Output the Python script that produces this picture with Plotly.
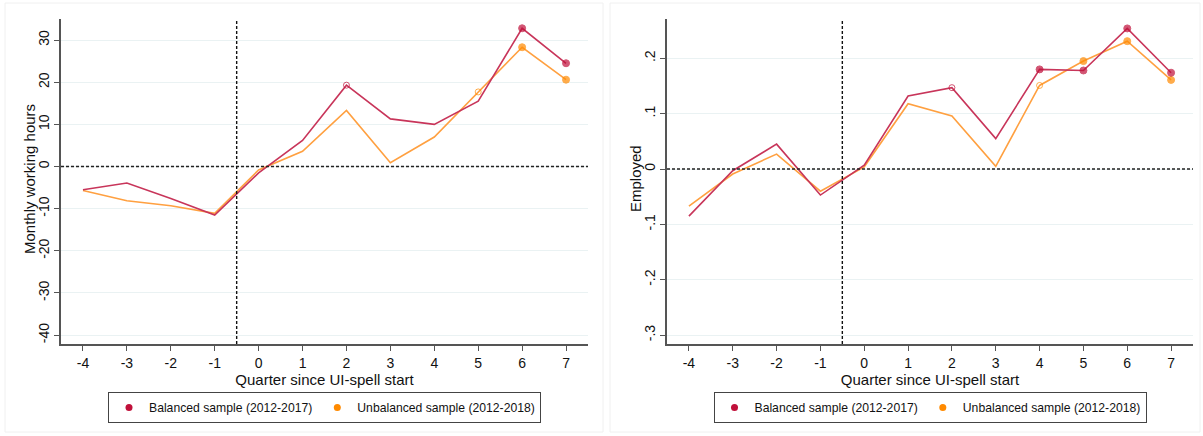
import plotly.graph_objects as go

W, H = 1203, 436

quarters = [-4, -3, -2, -1, 0, 1, 2, 3, 4, 5, 6, 7]
quarter_labels = ['-4', '-3', '-2', '-1', '0', '1', '2', '3', '4', '5', '6', '7']

# monthly working hours
hours_bal = [-5.5, -3.9, -7.6, -11.5, -1.5, 6.2, 19.3, 11.3, 10.0, 15.5, 32.8, 24.5]
hours_unbal = [-5.7, -8.1, -9.3, -11.1, -0.8, 3.6, 13.3, 0.9, 7.0, 17.7, 28.3, 20.6]
# 0 = no marker, 1 = hollow marker, 2 = filled marker
hours_bal_sig = [0, 0, 0, 0, 0, 0, 1, 0, 0, 0, 2, 2]
hours_unbal_sig = [0, 0, 0, 0, 0, 0, 0, 0, 0, 1, 2, 2]

# employed
emp_bal = [-0.085, -0.003, 0.045, -0.047, 0.007, 0.132, 0.147, 0.055, 0.180, 0.178, 0.254, 0.174]
emp_unbal = [-0.067, -0.009, 0.027, -0.040, 0.004, 0.118, 0.096, 0.005, 0.151, 0.195, 0.231, 0.161]
emp_bal_sig = [0, 0, 0, 0, 0, 0, 1, 0, 2, 2, 2, 2]
emp_unbal_sig = [0, 0, 0, 0, 0, 0, 0, 0, 1, 2, 2, 2]

hours_ticks = [30, 20, 10, 0, -10, -20, -30, -40]
hours_ticktext = ['30', '20', '10', '0', '-10', '-20', '-30', '-40']
emp_ticks = [0.2, 0.1, 0, -0.1, -0.2, -0.3]
emp_ticktext = ['.2', '.1', '0', '-.1', '-.2', '-.3']

names = ['Balanced sample (2012-2017)', 'Unbalanced sample (2012-2018)']
line_cols = ['#C8355A', '#FFA040']
mark_cols = ['#C0103A', '#FF8A00']

FONT = 'Liberation Sans, Arial, sans-serif'


def px_x(p):
    return p / W


def px_y(p):
    return 1 - p / H


def series(x, y, sig, col, mcol, xa, ya):
    sym = ['circle-open' if s == 1 else 'circle' for s in sig]
    size = [0 if s == 0 else (6 if s == 1 else 7) for s in sig]
    return go.Scatter(
        x=x, y=y, mode='lines+markers', xaxis=xa, yaxis=ya,
        line=dict(color=col, width=1.6),
        marker=dict(symbol=sym, size=size, color=mcol,
                    line=dict(color=mcol, width=1)),
        showlegend=False, hoverinfo='x+y',
    )


fig = go.Figure()
panels = [
    ('x', 'y', hours_bal, hours_unbal, hours_bal_sig, hours_unbal_sig, 'legend'),
    ('x2', 'y2', emp_bal, emp_unbal, emp_bal_sig, emp_unbal_sig, 'legend2'),
]
for xa, ya, b, u, bs, us, leg in panels:
    fig.add_trace(series(quarters, u, us, line_cols[1], mark_cols[1], xa, ya))
    fig.add_trace(series(quarters, b, bs, line_cols[0], mark_cols[0], xa, ya))
    for name, mc in zip(names, mark_cols):
        fig.add_trace(go.Scatter(
            x=[None], y=[None], mode='markers', name=name, xaxis=xa, yaxis=ya,
            marker=dict(color=mc, size=7), legend=leg,
        ))

axis_common = dict(
    showline=True, linecolor='#555555', linewidth=1.5,
    ticks='outside', ticklen=5, tickwidth=1.2, tickcolor='#555555',
    tickfont=dict(family=FONT, size=14, color='#111111'),
    zeroline=False, mirror=False,
)
xcommon = dict(axis_common, range=[-4.5, 7.5], tickvals=quarters,
               ticktext=quarter_labels, showgrid=False,
               title=dict(text='Quarter since UI-spell start', standoff=2,
                          font=dict(family=FONT, size=15, color='#111111')))
ycommon = dict(axis_common, showgrid=True, gridcolor='#EAF2F3', gridwidth=1,
               tickangle=-90)

legend_common = dict(orientation='h', xanchor='center', y=px_y(392), yanchor='top',
                     bordercolor='#444444', borderwidth=1,
                     font=dict(family=FONT, size=12.2, color='#111111'),
                     itemwidth=30, tracegroupgap=0)

fig.update_layout(
    width=W, height=H,
    margin=dict(l=0, r=0, t=0, b=0),
    paper_bgcolor='white', plot_bgcolor='white',
    font=dict(family=FONT, color='#111111'),
    xaxis=dict(xcommon, domain=[px_x(61), px_x(588)], anchor='y'),
    yaxis=dict(ycommon, domain=[px_y(344), px_y(19)], anchor='x',
               range=[-42.1, 35], tickvals=hours_ticks, ticktext=hours_ticktext),
    xaxis2=dict(xcommon, domain=[px_x(667), px_x(1193)], anchor='y2'),
    yaxis2=dict(ycommon, domain=[px_y(344), px_y(19)], anchor='x2',
                range=[-0.316, 0.271], tickvals=emp_ticks, ticktext=emp_ticktext),
    legend=dict(legend_common, x=px_x(324.5)),
    legend2=dict(legend_common, x=px_x(930)),
)

# y axis titles
for text, xp in [('Monthly working hours', 29), ('Employed', 635)]:
    fig.add_annotation(text=text, xref='paper', yref='paper', x=px_x(xp), y=px_y(179),
                       textangle=-90, showarrow=False, xanchor='center', yanchor='middle',
                       font=dict(family=FONT, size=15, color='#111111'))

# reference lines: zero line and the UI-spell start
for xa, ya in [('x', 'y'), ('x2', 'y2')]:
    fig.add_shape(type='line', xref=xa + ' domain', yref=ya, x0=0, x1=1, y0=0, y1=0,
                  line=dict(color='#222222', width=1.4, dash='3px,2px'))
    fig.add_shape(type='line', xref=xa, yref=ya + ' domain', x0=-0.5, x1=-0.5, y0=0, y1=1,
                  line=dict(color='#111111', width=1.4, dash='3px,2px'))

# faint graph region outlines
for x0, x1 in [(5, 603), (610, 1200)]:
    fig.add_shape(type='rect', xref='paper', yref='paper',
                  x0=px_x(x0), x1=px_x(x1), y0=px_y(432), y1=px_y(3),
                  line=dict(color='#F0F0F0', width=1), layer='below')

fig.write_html('out.html', config={'displayModeBar': False},
               post_script="document.body.style.margin='0';")
